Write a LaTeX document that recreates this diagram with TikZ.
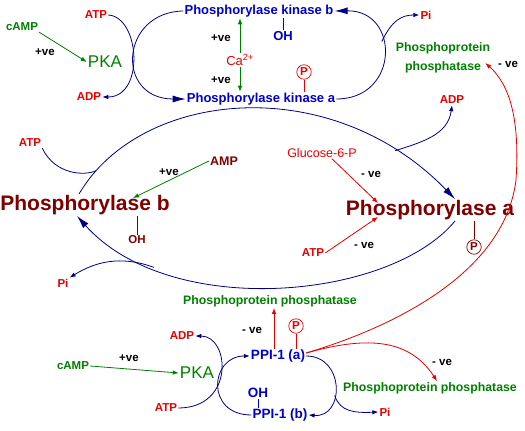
\documentclass[tikz,border=0pt]{standalone}
\usepackage{fontspec}
\setmainfont{Liberation Sans}
\usetikzlibrary{arrows.meta}
\definecolor{navy}{RGB}{0,0,128}
\definecolor{kblue}{RGB}{0,0,205}
\definecolor{lred}{RGB}{230,0,0}
\definecolor{dred}{RGB}{128,0,0}
\definecolor{dgreen}{RGB}{0,128,0}
\newcommand{\fsz}[1]{\fontsize{#1}{#1}\selectfont}
\tikzset{%
	>={Latex[width=4.5pt,length=6pt]},
	% Specifications for style of nodes:
	base/.style = {inner sep=1pt, font=\fsz{11.5}\bfseries},
	metab/.style = {base, text=lred},
	kinase/.style = {base, text=kblue, font=\fsz{13}\bfseries},
	ppi/.style = {base, text=kblue, font=\fsz{13.5}\bfseries},
	enzyme/.style = {base, text=dgreen, font=\fsz{12.3}\bfseries, align=center},
	pka/.style = {base, text=dgreen, font=\fsz{17}},
	phos/.style = {base, text=dred, font=\fsz{21}\bfseries},
	sign/.style = {base, text=black, font=\fsz{11.5}\bfseries},
	pcirc/.style = {circle, draw, inner sep=1.2pt, font=\fsz{11.5}\bfseries, line width=0.7pt},
	% Specifications for style of lines:
	link/.style = {navy, line width=0.8pt},
	bigarrow/.style = {link, -{Latex[width=7pt,length=13pt]}},
	smallarrow/.style = {link, ->},
	plus/.style = {dgreen, line width=0.8pt, ->},
	minus/.style = {lred, line width=0.8pt, ->},
	stem/.style = {line width=0.7pt},
}

\begin{document}
\begin{tikzpicture}[x=1pt,y=-1pt]
		\useasboundingbox (0,0) rectangle (525,431);
		% phosphorylase kinase
		\node (atpT) [metab] at (96,15) {ATP};
		\node (campT) [base, text=dgreen] at (22,27) {cAMP};
		\node (pvT) [sign] at (45,52) {+ve};
		\node (pkaT) [pka] at (105,62) {PKA};
		\node (adpT) [metab] at (89,97) {ADP};
		\node (kinB) [kinase] at (259,11) {Phosphorylase kinase b};
		\node (kinBoh) [kinase] at (283,36) {OH};
		\node (pvC1) [sign] at (221,38) {+ve};
		\node (caT) [base, text=lred, font=\fsz{13}] at (240,60) {Ca\textsuperscript{2+}};
		\node (pvC2) [sign] at (221,80) {+ve};
		\node (pT) [pcirc, lred] at (304,72) {P};
		\node (kinA) [kinase] at (261,99) {Phosphorylase kinase a};
		\node (piT) [metab] at (426,15) {Pi};
		\node (ppT) [enzyme] at (443,58) {Phosphoprotein\\[7pt]phosphatase};
		\node (nvT) [sign] at (508,64) {- ve};
		
		\draw [bigarrow] (kinB.west) .. controls (120,12) and (115,99) .. (kinA.west);
		\draw [smallarrow] (atpT.east) .. controls (140,17) and (145,97) .. (adpT.east);
		\draw [plus] (campT.south east) -- (pkaT.west);
		\draw [plus] (caT.north) -- (caT.north |- kinB.south);
		\draw [plus] (caT.south) -- (caT.south |- kinA.north);
		\draw [stem, lred] (pT.south) -- (pT.south |- kinA.north);
		\draw [stem, kblue] (kinBoh.north) -- (kinBoh.north |- kinB.south);
		\draw [bigarrow] (kinA.east) .. controls (400,99) and (400,10) .. coordinate[pos=0.6] (piFork) (kinB.east);
		\draw [smallarrow] (piFork) .. controls (392,20) and (402,15) .. (piT.west);
		
		% phosphorylase
		\node (atpM) [metab] at (30,143) {ATP};
		\node (amp) [base, text=dred, font=\fsz{12.5}\bfseries] at (224,161) {AMP};
		\node (pvM) [sign] at (169,172) {+ve};
		\node (g6p) [metab, font=\fsz{12.5}] at (322,153) {Glucose-6-P};
		\node (nvM1) [sign] at (371,174) {- ve};
		\node (adpM) [metab] at (452,100) {ADP};
		\node (phb) [phos] at (85,205) {Phosphorylase b};
		\node (pha) [phos] at (430,210) {Phosphorylase a};
		\node (phbOH) [base, text=dred] at (137,240) {OH};
		\node (atpM2) [metab] at (313,253) {ATP};
		\node (nvM2) [sign] at (364,245) {- ve};
		\node (pM) [pcirc, dred] at (474,247) {P};
		\node (piM) [metab] at (63,283) {Pi};
		
		\draw [bigarrow] ([xshift=-6pt]phb.north) .. controls (140,90) and (330,70) .. coordinate[pos=0.08] (atpJoin) coordinate[pos=0.85] (adpFork) ([xshift=25pt]pha.north);
		\draw [link] (atpM.south east) .. controls (55,175) and (85,176) .. (atpJoin);
		\draw [smallarrow] (adpFork) .. controls (422,142) and (448,135) .. (adpM.south);
		\draw [bigarrow] ([xshift=25pt]pha.south) .. controls (390,300) and (170,320) .. coordinate[pos=0.78] (piFork2) ([xshift=-8pt]phb.south);
		\draw [smallarrow] (piFork2) .. controls (120,255) and (95,262) .. (piM.north east);
		\draw [plus] (amp.west) -- ([xshift=48pt,yshift=-4pt]phb.north);
		\draw [stem, dred] (phbOH.north) -- (phbOH.north |- phb.south);
		\draw [minus] ([xshift=10pt]g6p.south) -- ([xshift=-52pt,yshift=-4pt]pha.north);
		\draw [minus] (atpM2.east) -- ([xshift=-52pt,yshift=4pt]pha.south);
		\draw [stem, dred] (pM.north) -- (pM.north |- pha.south);
		
		% inhibitor-1
		\node (ppM) [enzyme] at (270,301) {Phosphoprotein phosphatase};
		\node (nvB1) [sign] at (252,330) {- ve};
		\node (pB) [pcirc, lred] at (296,326) {P};
		\node (adpB) [metab] at (182,336) {ADP};
		\node (pvB) [sign] at (129,358) {+ve};
		\node (campB) [base, text=dgreen] at (73,366) {cAMP};
		\node (pkaB) [pka] at (197,373) {PKA};
		\node (ppia) [ppi] at (278,356) {PPI-1 (a)};
		\node (nvB2) [sign] at (442,362) {- ve};
		\node (ppB) [enzyme] at (430,388) {Phosphoprotein phosphatase};
		\node (ohB) [ppi] at (258,393) {OH};
		\node (atpB) [metab] at (166,408) {ATP};
		\node (ppib) [ppi] at (280,415) {PPI-1 (b)};
		\node (piB) [metab] at (385,412) {Pi};
		
		\draw [minus] ([xshift=-4pt]ppia.north) -- ([xshift=-4pt]ppia.north |- ppM.south);
		\draw [stem, lred] (pB.south) -- (pB.south |- ppia.north);
		\draw [plus] (campB.east) -- (pkaB.west);
		\draw [smallarrow] (atpB.east) .. controls (235,408) and (230,336) .. (adpB.east);
		\draw [smallarrow] (ppib.west) .. controls (205,415) and (210,356) .. (ppia.west);
		\draw [stem, kblue] (ohB.south) -- (ohB.south |- ppib.north);
		\draw [smallarrow] (ppia.east) .. controls (345,356) and (345,418) .. coordinate[pos=0.6] (piFork3) (ppib.east);
		\draw [smallarrow] (piFork3) .. controls (340,412) and (355,413) .. (piB.west);
		\draw [minus] ([yshift=3pt]ppia.east) .. controls (370,335) and (410,340) .. ([xshift=7pt]ppB.north);
		\draw [minus] ([yshift=3pt]ppia.east) .. controls (400,325) and (505,270) .. (516,180) .. controls (520,120) and (510,85) .. ([xshift=-6pt,yshift=-5pt]ppT.east);
		
\end{tikzpicture}
\end{document}
